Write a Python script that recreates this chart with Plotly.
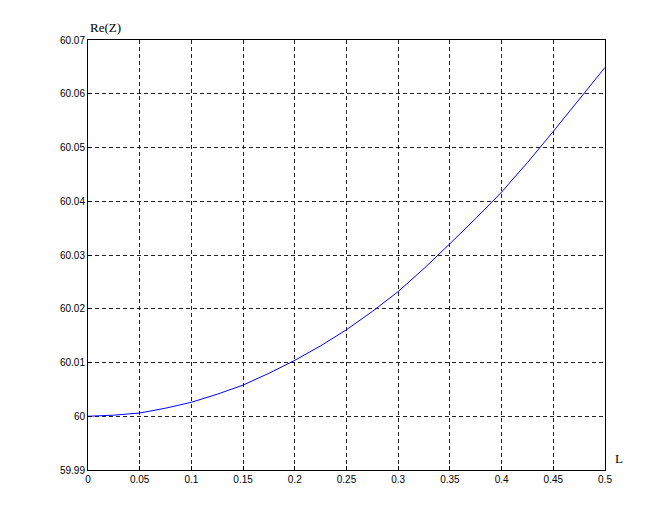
import plotly.graph_objects as go

L_vals = [0.0, 0.025, 0.05, 0.075, 0.1, 0.125, 0.15, 0.175, 0.2, 0.225, 0.25,
          0.275, 0.3, 0.325, 0.35, 0.375, 0.4, 0.425, 0.45, 0.475, 0.5]
re_z = [60.0000, 60.0002, 60.0006, 60.0015, 60.0026, 60.0041, 60.0058, 60.0080,
        60.0104, 60.0131, 60.0161, 60.0195, 60.0232, 60.0275, 60.0321, 60.0368,
        60.0417, 60.0472, 60.0530, 60.0589, 60.0649]

x_ticks = [0, 0.05, 0.1, 0.15, 0.2, 0.25, 0.3, 0.35, 0.4, 0.45, 0.5]
x_ticktext = ["0", "0.05", "0.1", "0.15", "0.2", "0.25", "0.3", "0.35", "0.4", "0.45", "0.5"]
y_ticks = [59.99, 60.0, 60.01, 60.02, 60.03, 60.04, 60.05, 60.06, 60.07]
y_ticktext = ["59.99", "60", "60.01", "60.02", "60.03", "60.04", "60.05", "60.06", "60.07"]

fig = go.Figure()
fig.add_trace(go.Scatter(x=L_vals, y=re_z, mode="lines",
                         line=dict(color="#0000ff", width=1), showlegend=False))

axis_common = dict(
    showline=True, linecolor="black", linewidth=1, mirror=True,
    showgrid=True, gridcolor="#222222", griddash="4px,3px", gridwidth=1,
    zeroline=False, ticks="inside", ticklen=4, tickcolor="black",
    tickfont=dict(family="Liberation Sans, Arial, sans-serif", size=10, color="black"),
)

fig.update_layout(
    width=651, height=514,
    margin=dict(l=80, r=54, t=32, b=52),
    paper_bgcolor="white", plot_bgcolor="white",
    xaxis=dict(range=[0, 0.5], tickvals=x_ticks, ticktext=x_ticktext, **axis_common),
    yaxis=dict(range=[59.99, 60.07], tickvals=y_ticks, ticktext=y_ticktext, **axis_common),
    annotations=[
        dict(text="Re(Z)", x=0.0, y=1.0, xref="paper", yref="paper",
             xanchor="left", yanchor="bottom", yshift=3, showarrow=False,
             font=dict(family="Liberation Serif, Times New Roman, serif", size=13, color="black")),
        dict(text="L", x=1.0, y=0.0, xref="paper", yref="paper",
             xanchor="left", yanchor="bottom", xshift=8, yshift=2, showarrow=False,
             font=dict(family="Liberation Serif, Times New Roman, serif", size=13, color="black")),
    ],
)

fig.write_html("out.html")
